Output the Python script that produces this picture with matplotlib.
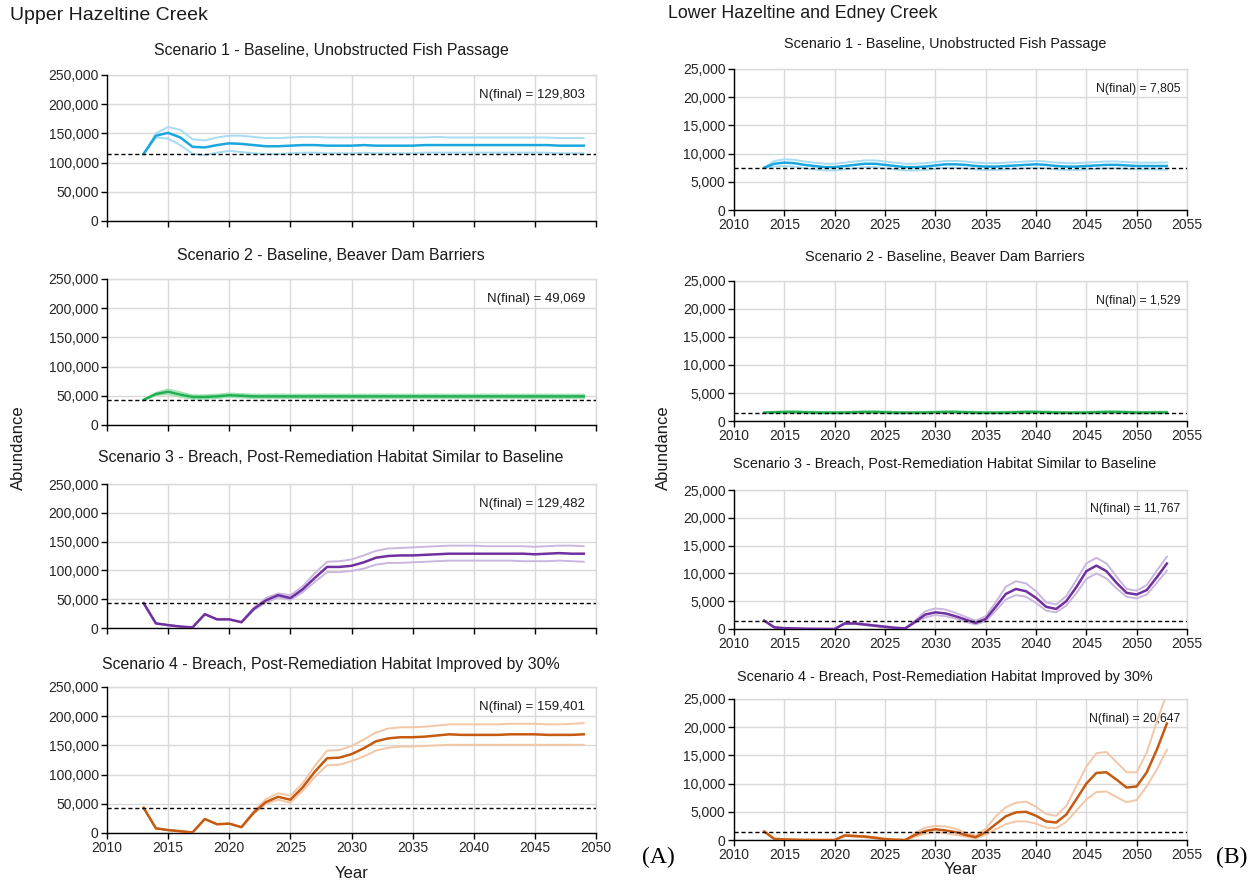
import matplotlib
matplotlib.use("Agg")
import matplotlib.pyplot as plt
import numpy as np
from matplotlib.ticker import FuncFormatter, MultipleLocator

plt.rcParams['font.family'] = ['Liberation Sans', 'DejaVu Sans']

# ---------------- Data: Upper Hazeltine Creek (A) ----------------
years_a = list(range(2013, 2050))

a1_mean = [115000, 146000, 151000, 143000, 127000, 126000, 130000, 133000, 132000, 130000,
           128000, 128000, 129000, 130000, 130000, 129000, 129000, 129000, 130000, 129000,
           129000, 129000, 129000, 130000, 130000, 130000, 130000, 130000, 130000, 130000,
           130000, 130000, 130000, 130000, 129000, 129000, 129000]
a1_hi = [115000, 150000, 161000, 156000, 140000, 138000, 143000, 146000, 146000, 144000,
         142000, 142000, 143000, 144000, 144000, 143000, 143000, 143000, 143000, 143000,
         143000, 143000, 143000, 143000, 144000, 143000, 143000, 143000, 143000, 143000,
         143000, 143000, 143000, 143000, 142000, 142000, 142000]
a1_lo = [115000, 143000, 141000, 130000, 115000, 113000, 117000, 120000, 118000, 116000,
         115000, 115000, 116000, 117000, 117000, 116000, 116000, 116000, 117000, 116000,
         116000, 116000, 116000, 117000, 117000, 117000, 117000, 117000, 117000, 117000,
         117000, 117000, 117000, 117000, 116000, 116000, 116000]
a1_ref = 115000
a1_final = "N(final) = 129,803"

a2_mean = [43000, 53000, 57000, 52000, 48000, 48000, 49000, 51000, 50000, 49000,
           49000, 49000, 49000, 49000, 49000, 49000, 49000, 49000, 49000, 49000,
           49000, 49000, 49000, 49000, 49000, 49000, 49000, 49000, 49000, 49000,
           49000, 49000, 49000, 49000, 49000, 49000, 49000]
a2_hi = [43000, 55000, 61000, 56000, 51000, 51000, 52000, 54000, 53000, 52000,
         52000, 52000, 52000, 52000, 52000, 52000, 52000, 52000, 52000, 52000,
         52000, 52000, 52000, 52000, 52000, 52000, 52000, 52000, 52000, 52000,
         52000, 52000, 52000, 52000, 52000, 52000, 52000]
a2_lo = [43000, 51000, 53000, 48000, 45000, 45000, 46000, 48000, 47000, 46000,
         46000, 46000, 46000, 46000, 46000, 46000, 46000, 46000, 46000, 46000,
         46000, 46000, 46000, 46000, 46000, 46000, 46000, 46000, 46000, 46000,
         46000, 46000, 46000, 46000, 46000, 46000, 46000]
a2_ref = 43500
a2_final = "N(final) = 49,069"

a3_mean = [43000, 8000, 5000, 2500, 1000, 24000, 15000, 15000, 10000, 33000,
           48000, 57000, 52000, 67000, 87000, 106000, 106000, 108000, 114000, 122000,
           125000, 126000, 126000, 127000, 128000, 129000, 129000, 129000, 129000, 129000,
           129000, 129000, 128000, 129000, 130000, 129000, 129000]
a3_hi = [43000, 8000, 5000, 2500, 1000, 24000, 15000, 15000, 10000, 35000,
         52000, 60000, 57000, 72000, 95000, 115000, 116000, 119000, 126000, 134000,
         138000, 139000, 140000, 141000, 142000, 143000, 143000, 143000, 142000, 142000,
         142000, 142000, 141000, 142000, 143000, 143000, 142000]
a3_lo = [43000, 8000, 5000, 2500, 1000, 24000, 15000, 15000, 10000, 31000,
         44000, 53000, 49000, 62000, 80000, 97000, 97000, 99000, 103000, 110000,
         113000, 113000, 114000, 115000, 116000, 117000, 117000, 117000, 117000, 117000,
         117000, 116000, 116000, 116000, 117000, 116000, 115000]
a3_ref = 43500
a3_final = "N(final) = 129,482"

a4_mean = [43000, 8000, 5000, 3000, 1000, 24000, 15000, 16000, 10000, 35000,
           53000, 62000, 57000, 78000, 105000, 128000, 129000, 135000, 145000, 157000,
           162000, 164000, 164000, 165000, 167000, 169000, 168000, 168000, 168000, 168000,
           169000, 169000, 169000, 168000, 168000, 168000, 169000]
a4_hi = [43000, 8000, 5000, 3000, 1000, 24000, 15000, 16000, 10000, 37000,
         58000, 68000, 64000, 85000, 115000, 141000, 142000, 149000, 160000, 172000,
         179000, 181000, 181000, 182000, 184000, 186000, 186000, 186000, 186000, 186000,
         187000, 187000, 187000, 186000, 186000, 187000, 188000]
a4_lo = [43000, 8000, 5000, 3000, 1000, 24000, 15000, 16000, 10000, 33000,
         50000, 57000, 52000, 72000, 96000, 116000, 117000, 123000, 131000, 141000,
         146000, 148000, 148000, 149000, 150000, 151000, 151000, 151000, 151000, 151000,
         151000, 151000, 151000, 151000, 151000, 151000, 151000]
a4_ref = 43500
a4_final = "N(final) = 159,401"

# ---------------- Data: Lower Hazeltine and Edney Creek (B) ----------------
years_b = list(range(2013, 2054))

b1_mean = [7500, 8200, 8400, 8300, 8000, 7800, 7600, 7600, 7800, 8000,
           8200, 8200, 8000, 7800, 7600, 7600, 7700, 7900, 8100, 8100,
           8000, 7800, 7700, 7700, 7800, 7900, 8000, 8100, 8000, 7800,
           7700, 7700, 7800, 7900, 8000, 8000, 7900, 7800, 7800, 7800, 7805]
b1_hi = [7500, 8700, 9000, 8900, 8600, 8400, 8200, 8200, 8400, 8600,
         8800, 8800, 8600, 8400, 8200, 8200, 8300, 8500, 8700, 8700,
         8600, 8400, 8300, 8300, 8400, 8500, 8600, 8700, 8600, 8400,
         8300, 8300, 8400, 8500, 8600, 8600, 8500, 8400, 8400, 8400, 8450]
b1_lo = [7500, 7700, 7800, 7700, 7400, 7200, 7000, 7000, 7200, 7400,
         7600, 7600, 7400, 7200, 7000, 7000, 7100, 7300, 7500, 7500,
         7400, 7200, 7100, 7100, 7200, 7300, 7400, 7500, 7400, 7200,
         7100, 7100, 7200, 7300, 7400, 7400, 7300, 7200, 7200, 7200, 7150]
b1_ref = 7500
b1_final = "N(final) = 7,805"

b2_mean = [1500, 1550, 1600, 1600, 1550, 1500, 1480, 1480, 1500, 1550,
           1600, 1600, 1550, 1500, 1480, 1480, 1500, 1550, 1600, 1600,
           1550, 1500, 1480, 1480, 1500, 1550, 1600, 1600, 1550, 1500,
           1480, 1480, 1500, 1550, 1600, 1600, 1550, 1500, 1500, 1520, 1529]
b2_hi = [1500, 1650, 1750, 1750, 1700, 1650, 1620, 1620, 1650, 1700,
         1750, 1750, 1700, 1650, 1620, 1620, 1650, 1700, 1750, 1750,
         1700, 1650, 1620, 1620, 1650, 1700, 1750, 1750, 1700, 1650,
         1620, 1620, 1650, 1700, 1750, 1750, 1700, 1650, 1650, 1670, 1680]
b2_lo = [1500, 1450, 1450, 1450, 1400, 1350, 1340, 1340, 1350, 1400,
         1450, 1450, 1400, 1350, 1340, 1340, 1350, 1400, 1450, 1450,
         1400, 1350, 1340, 1340, 1350, 1400, 1450, 1450, 1400, 1350,
         1340, 1340, 1350, 1400, 1450, 1450, 1400, 1350, 1350, 1370, 1380]
b2_ref = 1400
b2_final = "N(final) = 1,529"

b3_mean = [1500, 300, 150, 100, 50, 30, 20, 10, 1000, 1000,
           800, 600, 400, 200, 100, 1300, 2600, 3000, 2800, 2300,
           1700, 1100, 1800, 4000, 6300, 7200, 6800, 5600, 4000, 3600,
           5000, 7500, 10400, 11400, 10400, 8300, 6500, 6200, 7000, 9300, 11767]
b3_hi = [1500, 300, 150, 100, 50, 30, 20, 10, 1100, 1100,
         900, 700, 500, 300, 150, 1500, 3200, 3700, 3500, 2900,
         2200, 1500, 2300, 4800, 7600, 8600, 8200, 6800, 4800, 4400,
         5900, 8800, 11800, 12800, 11800, 9400, 7200, 6900, 7900, 10500, 13000]
b3_lo = [1500, 300, 150, 100, 50, 30, 20, 10, 900, 900,
         700, 500, 300, 150, 50, 1100, 2100, 2500, 2300, 1900,
         1300, 800, 1400, 3300, 5300, 6100, 5800, 4700, 3300, 3000,
         4200, 6400, 9000, 10000, 9100, 7300, 5800, 5500, 6200, 8300, 10500]
b3_ref = 1400
b3_final = "N(final) = 11,767"

b4_mean = [1500, 200, 100, 50, 20, 10, 5, 0, 800, 700,
           600, 400, 150, 50, 0, 900, 1600, 1900, 1700, 1400,
           900, 500, 1400, 2800, 4200, 4900, 5000, 4300, 3300, 3100,
           4500, 7200, 10000, 11900, 12000, 10700, 9300, 9500, 12000, 16000, 20647]
b4_hi = [1500, 200, 100, 50, 20, 10, 5, 0, 900, 800,
         700, 500, 200, 80, 0, 1300, 2200, 2500, 2400, 2000,
         1300, 800, 2000, 4200, 5800, 6600, 6800, 5900, 4600, 4300,
         6000, 9500, 13000, 15400, 15600, 13800, 12000, 12000, 15500, 21000, 26000]
b4_lo = [1500, 200, 100, 50, 20, 10, 5, 0, 700, 600,
         500, 300, 100, 30, 0, 600, 1100, 1400, 1200, 900,
         600, 300, 900, 1900, 2800, 3300, 3300, 2900, 2200, 2100,
         3200, 5200, 7200, 8500, 8600, 7600, 6700, 7100, 9500, 12500, 16000]
b4_ref = 1400
b4_final = "N(final) = 20,647"

titles = ["Scenario 1 - Baseline, Unobstructed Fish Passage",
          "Scenario 2 - Baseline, Beaver Dam Barriers",
          "Scenario 3 - Breach, Post-Remediation Habitat Similar to Baseline",
          "Scenario 4 - Breach, Post-Remediation Habitat Improved by 30%"]

main_colors = ["#1AA7E0", "#1FB04F", "#7030A0", "#C55A11"]
band_colors = ["#A8DCF2", "#A5E0B7", "#CBB6E0", "#F2C6A6"]

a_series = [(a1_mean, a1_hi, a1_lo, a1_ref, a1_final),
            (a2_mean, a2_hi, a2_lo, a2_ref, a2_final),
            (a3_mean, a3_hi, a3_lo, a3_ref, a3_final),
            (a4_mean, a4_hi, a4_lo, a4_ref, a4_final)]
b_series = [(b1_mean, b1_hi, b1_lo, b1_ref, b1_final),
            (b2_mean, b2_hi, b2_lo, b2_ref, b2_final),
            (b3_mean, b3_hi, b3_lo, b3_ref, b3_final),
            (b4_mean, b4_hi, b4_lo, b4_ref, b4_final)]

W, H = 1260, 882
fig = plt.figure(figsize=(W / 100, H / 100), dpi=100)

def px_axes(x0, x1, y0, y1):
    return fig.add_axes([x0 / W, 1 - y1 / H, (x1 - x0) / W, (y1 - y0) / H])

comma = FuncFormatter(lambda v, p: f"{int(v):,}")

def style(ax, xmax, ymax, ystep, show_xlabels):
    ax.set_xlim(2010, xmax)
    ax.set_ylim(0, ymax)
    ax.xaxis.set_major_locator(MultipleLocator(5))
    ax.yaxis.set_major_locator(MultipleLocator(ystep))
    ax.yaxis.set_major_formatter(comma)
    ax.grid(True, color="#D9D9D9", linewidth=1.0)
    ax.set_axisbelow(True)
    for s in ["top", "right"]:
        ax.spines[s].set_visible(False)
    for s in ["left", "bottom"]:
        ax.spines[s].set_color("#000000")
        ax.spines[s].set_linewidth(1.0)
    ax.tick_params(axis="both", labelsize=10, length=4, width=1, colors="#000000",
                   labelcolor="#262626", pad=2)
    if not show_xlabels:
        ax.tick_params(axis="x", labelbottom=False)
    ax.axhline(ymax, color="#D9D9D9", lw=1.0, zorder=0.5, clip_on=False)
    ax.axvline(xmax, color="#D9D9D9", lw=1.0, zorder=0.5, clip_on=False)

def draw(ax, years, ser, i, fsize, xpos):
    mean, hi, lo, ref, final = ser
    ax.plot(years, hi, color=band_colors[i], lw=1.4, zorder=2)
    ax.plot(years, lo, color=band_colors[i], lw=1.4, zorder=2)
    ax.plot(years, mean, color=main_colors[i], lw=1.8, zorder=3)
    ax.axhline(ref, color="#000000", lw=1.0, ls=(0, (3, 2)), zorder=4)
    ax.text(xpos, 0.86, final, transform=ax.transAxes, ha="right", va="center",
            fontsize=fsize, color="#1a1a1a")

# Left column (A)
a_rows = [(75, 221), (279, 425), (484, 628), (687, 833)]
a_title_y = [50, 255, 457, 664]
for i, (y0, y1) in enumerate(a_rows):
    ax = px_axes(107, 596, y0, y1)
    style(ax, 2050, 250000, 50000, show_xlabels=(i == 3))
    draw(ax, years_a, a_series[i], i, 9.5, 0.978)
    fig.text(331 / W, 1 - a_title_y[i] / H, titles[i], ha="center", va="center",
             fontsize=11.4, color="#1a1a1a")
    if i == 3:
        ax.set_xlabel("Year", fontsize=12, color="#1a1a1a", labelpad=8)

# Right column (B)
b_rows = [(69, 210), (281, 421), (490, 629), (699, 840)]
b_title_y = [44, 257, 464, 677]
for i, (y0, y1) in enumerate(b_rows):
    ax = px_axes(734, 1187, y0, y1)
    style(ax, 2055, 25000, 5000, show_xlabels=True)
    draw(ax, years_b, b_series[i], i, 8.8, 0.985)
    fig.text(945 / W, 1 - b_title_y[i] / H, titles[i], ha="center", va="center",
             fontsize=10.4, color="#1a1a1a")
    if i == 3:
        ax.set_xlabel("Year", fontsize=12, color="#1a1a1a", labelpad=0)

fig.text(10 / W, 1 - 16 / H, "Upper Hazeltine Creek", ha="left", va="center",
         fontsize=14, color="#1a1a1a")
fig.text(668 / W, 1 - 14 / H, "Lower Hazeltine and Edney Creek", ha="left", va="center",
         fontsize=12.8, color="#1a1a1a")
fig.text(18 / W, 1 - 448 / H, "Abundance", rotation=90, ha="center", va="center",
         fontsize=12, color="#1a1a1a")
fig.text(663 / W, 1 - 448 / H, "Abundance", rotation=90, ha="center", va="center",
         fontsize=12, color="#1a1a1a")
fig.text(658 / W, 1 - 857 / H, "(A)", ha="center", va="center", fontsize=17,
         family=["Liberation Serif", "DejaVu Serif"], color="#000000")
fig.text(1232 / W, 1 - 857 / H, "(B)", ha="center", va="center", fontsize=17,
         family=["Liberation Serif", "DejaVu Serif"], color="#000000")

fig.savefig("out.png", dpi=100)
